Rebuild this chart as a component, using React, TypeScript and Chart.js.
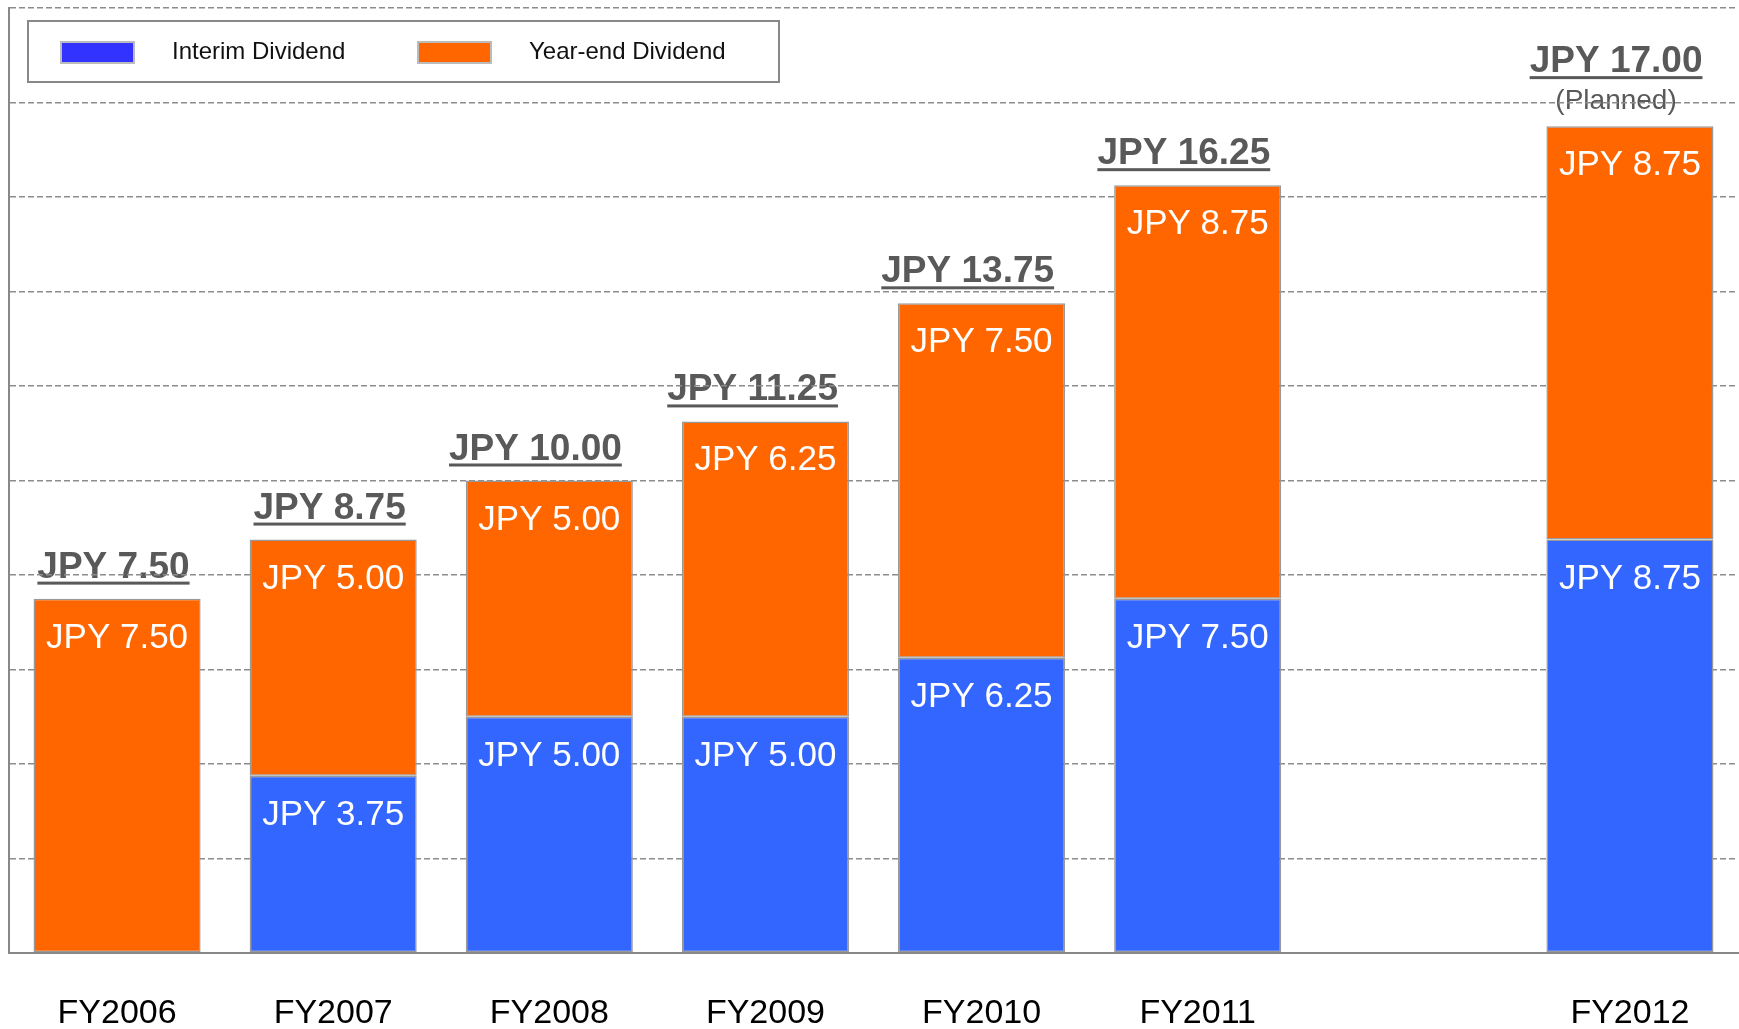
import { useEffect, useRef } from 'react';
import { Chart, registerables } from 'chart.js';

Chart.register(...registerables);

// Fiscal years shown on the x axis (blank slot separates the plan year)
const categories = ['FY2006', 'FY2007', 'FY2008', 'FY2009', 'FY2010', 'FY2011', '', 'FY2012'];
// Dividend per share, JPY
const interimDividend = [null, 3.75, 5.0, 5.0, 6.25, 7.5, null, 8.75];
const yearEndDividend = [7.5, 5.0, 5.0, 6.25, 7.5, 8.75, null, 8.75];
// Annual totals printed above the bars
const annualTotals = [7.5, 8.75, 10.0, 11.25, 13.75, 16.25, null, 17.0];
const totalNotes = ['', '', '', '', '', '', '', '(Planned)'];
const seriesNames = ['Interim Dividend', 'Year-end Dividend'];
const yMax = 20;
const yStep = 2;

const FONT = '"Liberation Sans", Arial, Helvetica, sans-serif';
const BLUE = '#3366FF';
const ORANGE = '#FF6600';
const LEGEND_BLUE = '#3333FF';

const fmt = (v: number) => 'JPY ' + v.toFixed(2);

const totalsPlugin = {
  id: 'annualTotals',
  beforeDraw(chart: any) {
    const ctx = chart.ctx;
    const meta = chart.getDatasetMeta(1);
    ctx.save();
    annualTotals.forEach((total, i) => {
      if (total == null) return;
      const el: any = meta.data[i];
      if (!el) return;
      const top = Math.min(el.y, el.base);
      const right = el.x + el.width / 2 - 11;
      const note = totalNotes[i];
      const baseline = note ? top - 54 : top - 21;
      ctx.font = `bold 37px ${FONT}`;
      ctx.fillStyle = '#595959';
      ctx.textAlign = 'right';
      ctx.textBaseline = 'alphabetic';
      const text = fmt(total);
      const w = ctx.measureText(text).width;
      ctx.fillText(text, right, baseline);
      ctx.fillRect(right - w, baseline + 4, w, 3);
      if (note) {
        ctx.font = `28px ${FONT}`;
        ctx.textAlign = 'center';
        ctx.fillText(note, right - w / 2, top - 17);
      }
    });
    ctx.restore();
  },
};

const segmentLabelsPlugin = {
  id: 'segmentLabels',
  afterDatasetsDraw(chart: any) {
    const ctx = chart.ctx;
    ctx.save();
    ctx.font = `35px ${FONT}`;
    ctx.fillStyle = '#FFFFFF';
    ctx.textAlign = 'center';
    ctx.textBaseline = 'alphabetic';
    chart.data.datasets.forEach((ds: any, d: number) => {
      const meta = chart.getDatasetMeta(d);
      ds.data.forEach((v: number | null, i: number) => {
        if (v == null) return;
        const el: any = meta.data[i];
        const top = Math.min(el.y, el.base);
        ctx.fillText(fmt(v), el.x, top + 49);
      });
    });
    ctx.restore();
  },
};

const boxLegendPlugin = {
  id: 'boxLegend',
  afterDraw(chart: any) {
    const ctx = chart.ctx;
    ctx.save();
    ctx.fillStyle = '#FFFFFF';
    ctx.fillRect(28, 21, 751, 61);
    ctx.strokeStyle = '#888888';
    ctx.lineWidth = 2;
    ctx.strokeRect(28, 21, 751, 61);
    const items = [
      { x: 61, textX: 172, color: LEGEND_BLUE, label: seriesNames[0] },
      { x: 418, textX: 529, color: ORANGE, label: seriesNames[1] },
    ];
    items.forEach((it) => {
      ctx.fillStyle = it.color;
      ctx.fillRect(it.x, 42, 73, 21);
      ctx.strokeStyle = '#BBBBBB';
      ctx.lineWidth = 2;
      ctx.strokeRect(it.x, 42, 73, 21);
      ctx.fillStyle = '#111111';
      ctx.font = `24px ${FONT}`;
      ctx.textAlign = 'left';
      ctx.textBaseline = 'middle';
      ctx.fillText(it.label, it.textX, 52);
    });
    ctx.restore();
  },
};

export default function App() {
  const canvasRef = useRef<HTMLCanvasElement | null>(null);

  useEffect(() => {
    if (!canvasRef.current) return;
    const chart = new Chart(canvasRef.current, {
      type: 'bar',
      data: {
        labels: categories,
        datasets: [
          {
            label: seriesNames[0],
            data: interimDividend,
            backgroundColor: BLUE,
            borderColor: '#999999',
            borderWidth: 1.5,
            borderSkipped: false,
          },
          {
            label: seriesNames[1],
            data: yearEndDividend,
            backgroundColor: ORANGE,
            borderColor: '#999999',
            borderWidth: 1.5,
            borderSkipped: false,
          },
        ],
      },
      options: {
        responsive: false,
        animation: false,
        layout: { padding: { left: 9, right: 1, top: 8, bottom: -46 } },
        datasets: {
          bar: { categoryPercentage: 1, barPercentage: 0.773 },
        },
        plugins: {
          legend: { display: false },
          tooltip: { enabled: false },
        },
        scales: {
          x: {
            stacked: true,
            grid: { display: false, drawTicks: false },
            border: { display: true, color: '#888888', width: 2 },
            ticks: {
              autoSkip: false,
              maxRotation: 0,
              padding: 44,
              color: '#000000',
              font: { family: FONT, size: 34, lineHeight: 1 },
            },
          },
          y: {
            stacked: true,
            min: 0,
            max: yMax,
            ticks: { display: false, stepSize: yStep },
            grid: { color: '#8c8c8c', lineWidth: 1.5, drawTicks: false },
            border: { display: true, color: '#888888', width: 2, dash: [6, 3] },
          },
        },
      },
      plugins: [totalsPlugin, segmentLabelsPlugin, boxLegendPlugin],
    });
    return () => chart.destroy();
  }, []);

  return (
    <div style={{ position: 'fixed', left: 0, top: 0, width: 1739, height: 1029, background: '#fff' }}>
      <canvas ref={canvasRef} width={1739} height={1029} style={{ display: 'block' }} />
    </div>
  );
}
